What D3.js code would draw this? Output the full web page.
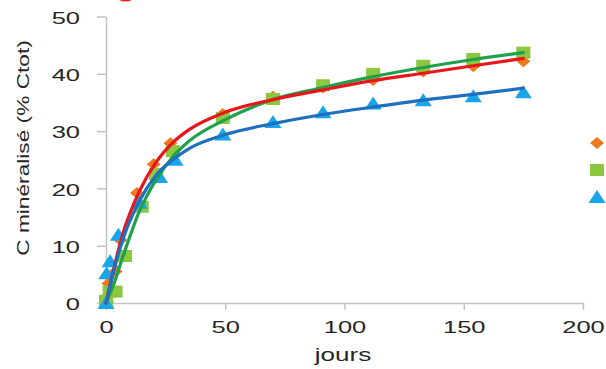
<!DOCTYPE html>
<html><head><meta charset="utf-8">
<script src="https://cdn.jsdelivr.net/npm/d3@7"></script>
<style>body{margin:0;background:#fff}svg{display:block}</style>
</head><body>
<svg id="c" width="606" height="369"></svg>
<script>
// ---- data ----
const xTicks = [0, 50, 100, 150, 200];
const yTicks = [0, 10, 20, 30, 40, 50];
const xTitle = "jours";
const yTitle = "C minéralisé (% Ctot)";

// observed points
const daysOrange = [0.5, 1, 4, 6, 13, 20, 27, 49, 70, 91, 112, 133, 154, 175];
const valOrange  = [0.2, 3.4, 5.5, 11.0, 19.2, 24.2, 27.9, 33.0, 36.0, 37.6, 38.9, 40.4, 41.3, 42.2];
const daysGreen  = [0, 1.5, 4, 8, 15, 21, 28, 49, 70, 91, 112, 133, 154, 175];
const valGreen   = [0.4, 2.0, 2.0, 8.2, 16.8, 22.5, 26.5, 32.3, 35.6, 38.0, 40.0, 41.4, 42.6, 43.7];
const daysBlue   = [0, 0.3, 1.7, 5.2, 14, 22.5, 29, 49, 70, 91, 112, 133, 154, 175];
const valBlue    = [0, 5.2, 7.3, 11.9, 17.5, 22.0, 25.0, 29.4, 31.6, 33.3, 34.8, 35.4, 36.1, 36.8];

// fitted curves
const fitDays  = [0, 3, 7, 14, 21, 28, 35, 50, 70, 91, 112, 133, 154, 175];
const fitRed   = [0, 5.5, 12, 19.5, 24.6, 28.0, 30.3, 33.3, 35.5, 37.2, 38.8, 40.1, 41.4, 42.7];
const fitGreen = [0, 3, 8, 16, 21.5, 25.5, 28.3, 32.0, 35.5, 37.6, 39.5, 41.1, 42.5, 43.7];
const fitBlue  = [0, 5.2, 11, 17.8, 22.3, 25.0, 27.0, 29.4, 31.3, 32.9, 34.2, 35.4, 36.4, 37.5];

// ---- drawing ----
const svg = d3.select("#c");
const x = d3.scaleLinear().domain([0, 200]).range([106, 583]);
const y = d3.scaleLinear().domain([0, 50]).range([303, 16.5]);
const font = "'Liberation Sans', Arial, sans-serif";
const axisCol = "#c3c3c3";
const textCol = "#262626";
const SX = 1.5;

// red circle fragment at top (mostly outside the picture)
svg.append("circle").attr("cx", 125.5).attr("cy", -12).attr("r", 12)
  .attr("fill", "none").attr("stroke", "#ee1c1c").attr("stroke-width", 3);

// axes
const gy = svg.append("g").attr("transform", `translate(${x(0)},0)`)
  .call(d3.axisLeft(y).tickValues(yTicks).tickSize(9).tickSizeOuter(0));
const gx = svg.append("g").attr("transform", `translate(0,${y(0)})`)
  .call(d3.axisBottom(x).tickValues(xTicks).tickSize(7).tickSizeOuter(0));
[gy, gx].forEach(g => {
  g.select(".domain").attr("stroke", axisCol).attr("stroke-width", 1.5);
  g.selectAll(".tick line").attr("stroke", axisCol).attr("stroke-width", 1.5);
  g.selectAll(".tick text").attr("font-family", font).attr("font-size", 17).attr("fill", textCol);
});
gy.selectAll(".tick text").attr("x", null).attr("dy", null)
  .attr("text-anchor", "end").attr("dominant-baseline", "central")
  .attr("transform", `translate(-26,1) scale(${SX},1)`);
gx.selectAll(".tick text").attr("y", null).attr("dy", null)
  .attr("text-anchor", "middle")
  .attr("transform", `translate(0,30) scale(${SX},1)`);

// titles
svg.append("text").attr("font-family", font).attr("font-size", 18).attr("fill", textCol)
  .attr("text-anchor", "middle")
  .attr("transform", `translate(343,361) scale(1.45,1)`).text(xTitle);
svg.append("text").attr("font-family", font).attr("font-size", 16).attr("fill", textCol)
  .attr("text-anchor", "middle")
  .attr("transform", `translate(29,148) rotate(-90) scale(1.42,1)`).text(yTitle);

// marker shapes
const W = 7, H = 6;
const shapes = {
  diamond: `M0,${-H}L${W},0L0,${H}L${-W},0Z`,
  square: `M${-W},${-H}H${W}V${H}H${-W}Z`,
  triangle: `M0,${-H - 1}L${W + 1.5},${H}L${-W - 1.5},${H}Z`
};
const series = [
  { days: daysOrange, vals: valOrange, shape: "diamond", color: "#ee7a1e" },
  { days: daysGreen, vals: valGreen, shape: "square", color: "#8dc63f" },
  { days: daysBlue, vals: valBlue, shape: "triangle", color: "#1aa5ea" }
];
series.forEach(s => {
  svg.append("g").selectAll("path").data(s.days.map((d, i) => [d, s.vals[i]]))
    .join("path")
    .attr("d", shapes[s.shape])
    .attr("transform", d => `translate(${x(d[0])},${y(d[1])})`)
    .attr("fill", s.color);
});

// fitted lines
const line = d3.line().x(d => x(d[0])).y(d => y(d[1])).curve(d3.curveMonotoneX);
const fits = [
  { vals: fitGreen, color: "#1fa04a" },
  { vals: fitRed, color: "#e8151c" },
  { vals: fitBlue, color: "#1f6fc0" }
];
fits.forEach(f => {
  svg.append("path").datum(fitDays.map((d, i) => [d, f.vals[i]]))
    .attr("d", line).attr("fill", "none").attr("stroke", f.color)
    .attr("stroke-width", 3.2).attr("stroke-linecap", "round");
});

// legend markers (labels are cut off at the right edge)
const legendY = [143, 170, 197];
series.forEach((s, i) => {
  svg.append("path").attr("d", shapes[s.shape])
    .attr("transform", `translate(597,${legendY[i]})`).attr("fill", s.color);
});
</script>
</body></html>
